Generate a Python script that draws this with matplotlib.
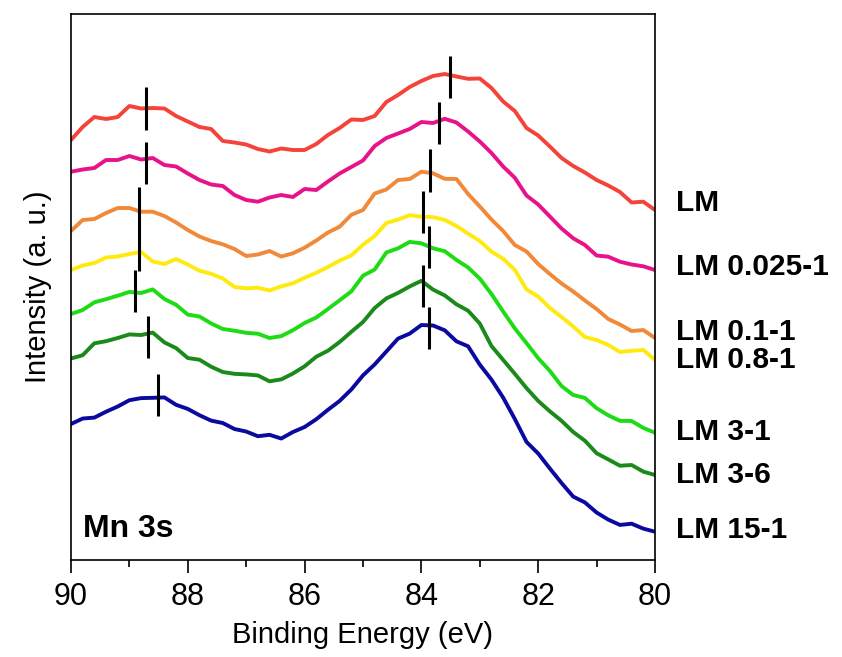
import matplotlib.pyplot as plt
import numpy as np

plt.rcParams['font.family'] = ['Liberation Sans', 'DejaVu Sans']

# binding energy grid (eV), 0.2 eV step
energy = np.linspace(90, 80, 51)

# intensities (a. u.), each spectrum already stacked with its offset
lm = [420, 433, 443, 441, 443, 454, 451.5, 452, 451.5, 444, 438.5, 433, 431, 419, 417.5, 415.5, 411,
      408.5, 411.5, 410, 410, 416, 425, 432, 440.5, 440, 444, 458, 465, 473, 479, 484, 486, 483.5,
      481.2, 481.5, 472, 458.5, 449, 432, 424.5, 413.5, 402, 394, 387.5, 380, 374.5, 368, 357.5,
      358.3, 350]
lm_0025 = [388.3, 390.5, 392, 400, 400, 404, 400.5, 402, 395, 393.5, 386.5, 380, 375.5, 374, 365, 360,
           358.3, 362.5, 365, 363, 371, 370, 378.5, 386.5, 393, 399.5, 414, 422, 426.5, 431, 438, 437,
           441.2, 437.5, 428.5, 418.5, 407, 393.5, 382.2, 364.5, 355.5, 343.5, 331.5, 321.7, 315,
           304.5, 303.3, 298.3, 295.5, 293.7, 290]
lm_01 = [329, 340, 341, 347, 352, 352, 348.3, 348.3, 344, 337.5, 330, 323.5, 319, 315.7, 311, 304,
         305.5, 309, 303.5, 306.7, 312.3, 319.5, 327.5, 333.3, 345.2, 350, 366.5, 370.5, 380, 381,
         388.3, 386.7, 381.2, 381, 366, 353.5, 340.5, 329, 315, 308.5, 296, 286, 276.5, 268.5, 259.5,
         251, 241, 235.5, 229, 230, 222]
lm_08 = [290, 294.5, 297, 302.5, 303.5, 306, 308, 298.5, 296, 301, 295.5, 289.3, 286.2, 281.5, 273,
         271.7, 272.3, 269.5, 273.6, 276.6, 282.3, 287.2, 293, 299.4, 304.6, 315.3, 324, 337, 340.4,
         344.8, 343.3, 342.8, 340.1, 334, 326.3, 319.1, 308.4, 301.2, 290.2, 270.6, 263.5, 252, 243,
         233.5, 223, 220, 215, 208, 209.2, 210.1, 200]
lm_31 = [246, 250, 257.7, 260.8, 264.3, 268.1, 267, 270.6, 261, 255.2, 245.4, 243.5, 236.6, 231,
         229.3, 227.2, 226.3, 222, 223.9, 229.8, 237, 242.5, 251, 259.7, 268.6, 284.3, 290.5, 307.5,
         311.7, 318.1, 316.7, 311.7, 308.8, 300.1, 292.5, 281.4, 266, 248.5, 231.6, 216.9, 201.8,
         189.1, 174, 165, 162.1, 151.8, 144.7, 139.2, 139, 132.1, 127.3]
lm_36 = [201.5, 204.8, 216.7, 218.8, 222, 225.6, 225, 227.4, 217.6, 211.9, 202, 200.3, 193.3, 188,
         186.2, 185.6, 184.6, 178.7, 180.6, 186.5, 193.7, 203.3, 209.3, 218, 228.2, 238, 252, 261.6,
         267.1, 273.6, 279.2, 270.4, 264.6, 255.7, 249.3, 236.5, 214, 200.1, 186.2, 171.9, 159.1,
         148.7, 139.2, 128, 119.3, 106.8, 100.6, 94.3, 95, 88.4, 85]
lm_151 = [136, 141.5, 142.4, 148.3, 153.5, 159.8, 161.9, 162.2, 162.6, 155.2, 151.1, 144.8, 139.4,
          137, 131, 128.5, 123.8, 125.2, 121.5, 128, 133, 140.8, 150.2, 159.1, 170.5, 184.6, 195.6,
          208.5, 221.4, 226.4, 235, 234.5, 229.7, 218.7, 213.7, 195.4, 180.4, 162.4, 141, 118.1,
          106.5, 91.5, 77, 63.4, 57.6, 47.5, 40.4, 35.1, 36.3, 31.4, 28.3]

spectra = [lm, lm_0025, lm_01, lm_08, lm_31, lm_36, lm_151]
names = ['LM', 'LM 0.025-1', 'LM 0.1-1', 'LM 0.8-1', 'LM 3-1', 'LM 3-6', 'LM 15-1']
colors = ['#F4433A', '#E8138A', '#F08A3A', '#FFEA10', '#1EDC14', '#1A8A1A', '#0A0AA0']
label_y = [357, 293, 228, 200, 128, 85, 30]

# peak markers: position (eV) and vertical extent (a. u.)
peak_e = [88.72, 88.72, 88.84, 88.90, 88.68, 88.51,
          83.51, 83.70, 83.85, 83.98, 83.87, 83.97, 83.87]
peak_lo = [430, 376, 289, 248.3, 201.7, 144,
           461.7, 416, 368.3, 327.3, 291.7, 253.3, 210.7]
peak_hi = [473.3, 418.3, 373.3, 290, 244, 185.7,
           504.3, 458.3, 411, 369, 334, 295, 253.3]

fig = plt.figure(figsize=(8.42, 6.57), dpi=100)
ax = fig.add_axes([0.0843, 0.1476, 0.6936, 0.8311])

for y, c, name, ly in zip(spectra, colors, names, label_y):
    ax.plot(energy, y, color=c, lw=2.8)
    ax.text(79.64, ly, name, fontsize=21.5, fontweight='bold', va='center', ha='left')

ax.vlines(peak_e, peak_lo, peak_hi, color='black', lw=2.2)

ax.text(89.8, 31, 'Mn 3s', fontsize=23, fontweight='bold', va='center', ha='left')

ax.set_xlim(90, 80)
ax.set_ylim(0, 546)
ax.set_xticks([90, 88, 86, 84, 82, 80])
ax.set_xticks([89, 87, 85, 83, 81], minor=True)
ax.set_yticks([])
ax.tick_params(axis='x', which='major', direction='out', length=9, width=1.2, labelsize=22, pad=7)
ax.tick_params(axis='x', which='minor', direction='out', length=5, width=1.2)
for s in ax.spines.values():
    s.set_linewidth(1.2)

ax.set_xlabel('Binding Energy (eV)', fontsize=21, labelpad=6)
ax.set_ylabel('Intensity (a. u.)', fontsize=21, labelpad=14)

fig.savefig('out.png', dpi=100)
